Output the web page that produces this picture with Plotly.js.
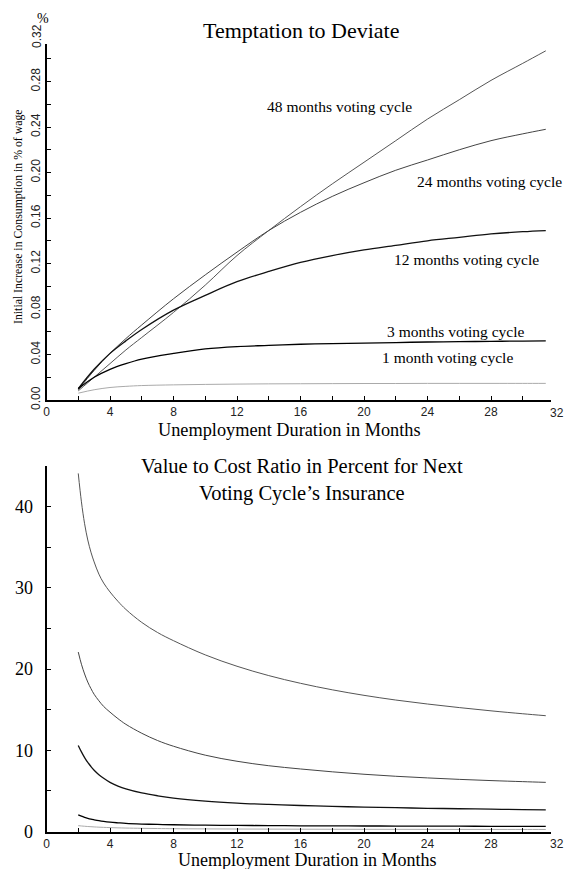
<!DOCTYPE html>
<html>
<head>
<meta charset="utf-8">
<script src="https://cdn.plot.ly/plotly-3.0.1.min.js"></script>
<style>html,body{margin:0;padding:0;background:#fff;}#chart{width:564px;height:869px;}</style>
</head>
<body>
<div id="chart"></div>
<script>
// ---------- DATA ----------
const cycleNames = ["48 months voting cycle","24 months voting cycle","12 months voting cycle","3 months voting cycle","1 month voting cycle"];

// Top panel: Temptation to Deviate (% of wage)
const monthsTop = [2,3,4,5,6,8,10,12,14,16,18,20,22,24,26,28,30,31.45];
const temptation48 = [0.008,0.020,0.032,0.044,0.055,0.077,0.101,0.127,0.149,0.170,0.190,0.209,0.228,0.247,0.264,0.281,0.296,0.307];
const temptation24 = [0.009,0.026,0.041,0.054,0.066,0.089,0.110,0.130,0.149,0.165,0.179,0.191,0.202,0.211,0.220,0.228,0.234,0.238];
const temptation12 = [0.010,0.027,0.041,0.052,0.062,0.079,0.092,0.104,0.113,0.121,0.127,0.132,0.136,0.140,0.143,0.146,0.148,0.149];
const temptation3  = [0.010,0.020,0.027,0.032,0.036,0.041,0.045,0.047,0.048,0.049,0.0495,0.050,0.0505,0.051,0.0513,0.0516,0.0518,0.052];
const temptation1  = [0.006,0.009,0.011,0.012,0.0127,0.0133,0.0137,0.014,0.0142,0.0143,0.0144,0.0145,0.0145,0.0146,0.0146,0.0146,0.0146,0.0146];

// Bottom panel: Value to Cost Ratio (%)
const monthsBottom = [2,2.2,2.4,2.6,2.8,3,3.3,3.6,4,4.5,5,6,7,8,10,12,14,16,18,20,22,24,26,28,30,31.45];
const ratio48 = [44.1,40.6,37.9,35.9,34.4,33.2,31.7,30.6,29.5,28.35,27.35,25.75,24.5,23.5,21.75,20.35,19.2,18.25,17.45,16.77,16.19,15.7,15.26,14.86,14.5,14.26];
const ratio24 = [22.1,20.6,19.4,18.4,17.6,16.9,16.1,15.4,14.7,13.9,13.2,12.1,11.2,10.5,9.4,8.65,8.1,7.7,7.35,7.05,6.8,6.6,6.42,6.27,6.14,6.05];
const ratio12 = [10.6,9.8,9.1,8.5,8.0,7.55,7.0,6.55,6.05,5.6,5.25,4.75,4.4,4.12,3.75,3.5,3.33,3.2,3.1,3.0,2.93,2.86,2.8,2.75,2.7,2.66];
const ratio3  = [2.05,1.88,1.74,1.62,1.52,1.44,1.33,1.24,1.15,1.07,1.0,0.92,0.87,0.83,0.78,0.75,0.725,0.705,0.69,0.68,0.67,0.66,0.65,0.643,0.636,0.63];
const ratio1  = [0.72,0.68,0.645,0.615,0.59,0.565,0.535,0.51,0.48,0.45,0.425,0.39,0.365,0.345,0.32,0.305,0.293,0.284,0.277,0.271,0.266,0.262,0.258,0.255,0.252,0.25];

// Tick labels
const xTickVals = [0,2,4,6,8,10,12,14,16,18,20,22,24,26,28,30];
const xTickText = ["0","","4","","8","","12","","16","","20","","24","","28",""];
const yTopTickVals = [0,0.02,0.04,0.06,0.08,0.10,0.12,0.14,0.16,0.18,0.20,0.22,0.24,0.26,0.28,0.30];
const yTopTickText = ["0.00","","0.04","","0.08","","0.12","","0.16","","0.20","","0.24","","0.28",""];
const yBotTickVals = [0,5,10,15,20,25,30,35,40];
const yBotTickText = ["0","","10","","20","","30","","40"];

// ---------- STYLE ----------
const W = 564, H = 869;
const px = x => x / W;
const py = y => 1 - y / H;
const serif = "Liberation Serif, Times New Roman, serif";
const sans = "Liberation Sans, Arial, sans-serif";
const styles = [
  {color:"#555", width:1},
  {color:"#444", width:1},
  {color:"#111", width:1.3},
  {color:"#000", width:1.3},
  {color:"#aaa", width:1}
];
const topSeries = [temptation48, temptation24, temptation12, temptation3, temptation1];
const botSeries = [ratio48, ratio24, ratio12, ratio3, ratio1];

const traces = [];
topSeries.forEach((s,i) => traces.push({
  x: monthsTop, y: s, type:"scatter", mode:"lines", name: cycleNames[i],
  line:{color:styles[i].color, width:styles[i].width, shape:"spline"},
  xaxis:"x", yaxis:"y", hoverinfo:"skip"
}));
botSeries.forEach((s,i) => traces.push({
  x: monthsBottom, y: s, type:"scatter", mode:"lines", name: cycleNames[i],
  line:{color:styles[i].color, width:styles[i].width, shape:"spline"},
  xaxis:"x2", yaxis:"y2", hoverinfo:"skip"
}));

const xRange = [0, 31.75];
const xDom = [px(46.5), px(46.5 + 31.75*15.875)];
const axisCommon = {
  showline:true, linecolor:"#000", linewidth:2, showgrid:false, zeroline:false,
  ticks:"inside", ticklen:4, tickwidth:1, tickcolor:"#000", fixedrange:true
};

function ann(text, x, y, size, family, extra) {
  return Object.assign({text:text, x:px(x), y:py(y), xref:"paper", yref:"paper", showarrow:false,
    xanchor:"center", yanchor:"middle", font:{family:family, size:size, color:"#000"}}, extra || {});
}

const layout = {
  width: W, height: H,
  margin:{l:0,r:0,t:0,b:0},
  paper_bgcolor:"#fff", plot_bgcolor:"#fff",
  showlegend:false,
  xaxis: Object.assign({}, axisCommon, {
    domain:xDom, range:xRange, anchor:"y",
    tickmode:"array", tickvals:xTickVals, ticktext:xTickText,
    tickfont:{family:sans, size:12, color:"#222"}
  }),
  yaxis: Object.assign({}, axisCommon, {
    domain:[py(400), py(44)], range:[0, 0.313], anchor:"x",
    tickmode:"array", tickvals:yTopTickVals, ticktext:yTopTickText,
    tickangle:-90, tickfont:{family:sans, size:12, color:"#222"}
  }),
  xaxis2: Object.assign({}, axisCommon, {
    domain:xDom, range:xRange, anchor:"y2",
    tickmode:"array", tickvals:xTickVals, ticktext:xTickText,
    tickfont:{family:sans, size:12, color:"#222"}
  }),
  yaxis2: Object.assign({}, axisCommon, {
    domain:[py(831.5), py(831.5 - 45*8.12)], range:[0, 45], anchor:"x2",
    tickmode:"array", tickvals:yBotTickVals, ticktext:yBotTickText,
    tickfont:{family:serif, size:18, color:"#000"}, ticklabelstandoff:8
  }),
  annotations: [
    ann("Temptation to Deviate", 301, 30, 22, serif),
    ann("%", 42.5, 19, 14, serif),
    Object.assign(ann("0.32", 37, 36, 12, sans, {textangle:-90}), {font:{family:sans, size:12, color:"#222"}}),
    Object.assign(ann("32", 557, 413, 12, sans), {font:{family:sans, size:12, color:"#222"}}),
    Object.assign(ann("32", 557, 844, 12, sans), {font:{family:sans, size:12, color:"#222"}}),
    ann("Initial Increase in Consumption in % of wage", 18, 217, 11.8, serif, {textangle:-90}),
    ann("Unemployment Duration in Months", 289, 430, 18.3, serif),
    ann("Unemployment Duration in Months", 307, 860, 18, serif),
    ann("Value to Cost Ratio in Percent for Next<br>Voting Cycle\u2019s Insurance", 302, 480, 20.5, serif, {align:"center"}),
    ann(cycleNames[0], 339, 107, 15.5, serif),
    ann(cycleNames[1], 489.5, 182, 15.5, serif),
    ann(cycleNames[2], 466.5, 259, 15.5, serif),
    ann(cycleNames[3], 456, 331.5, 15.5, serif),
    ann(cycleNames[4], 447, 357, 15.5, serif)
  ]
};

Plotly.newPlot("chart", traces, layout, {staticPlot:true, displayModeBar:false});
</script>
</body>
</html>
